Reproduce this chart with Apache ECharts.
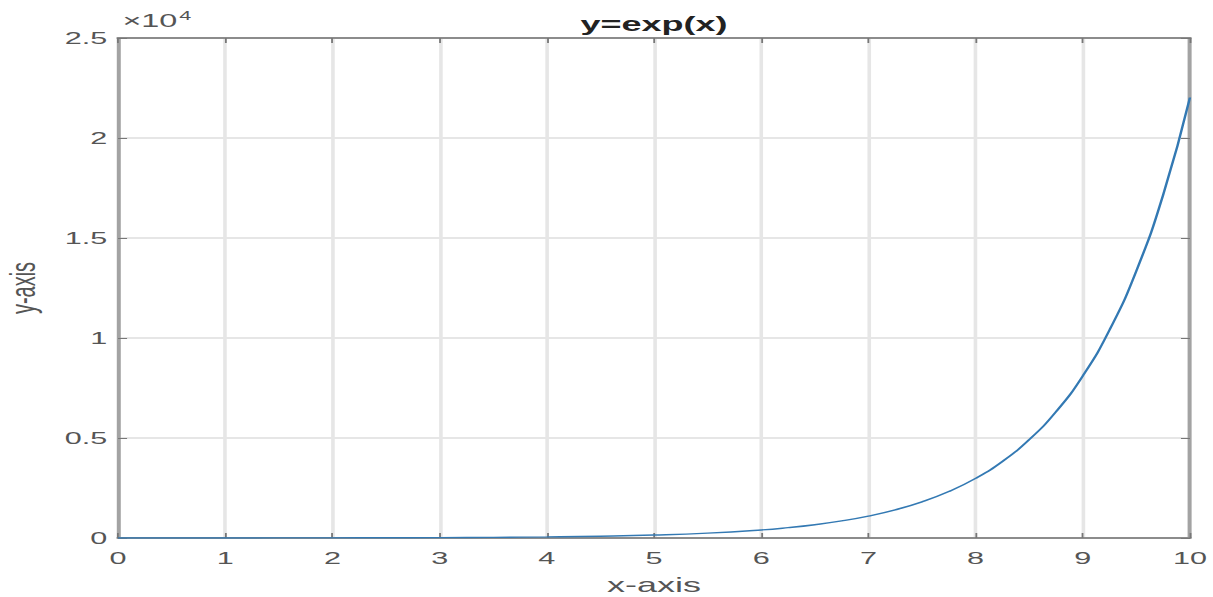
<!DOCTYPE html>
<html><head><meta charset="utf-8">
<script src="https://cdn.jsdelivr.net/npm/echarts@6/dist/echarts.min.js"></script>
<style>
html,body{margin:0;padding:0;background:#fff;overflow:hidden}
#c{width:674px;height:597px;transform:scaleX(1.7997);transform-origin:0 0}
</style>
</head><body><div id="c"></div>
<script>
const titleText = 'y=exp(x)';
const xLabel = 'x-axis';
const yLabel = 'y-axis';
const xTicks = [0,1,2,3,4,5,6,7,8,9,10];
const yTicks = [0,0.5,1,1.5,2,2.5];
// x values and y values (in units of 10^4)
const xs = [0,0.5,1,1.5,2,2.5,3,3.5,4,4.5,5,5.5,6,6.25,6.5,6.75,7,7.25,7.5,7.75,8,8.25,8.5,8.75,9,9.25,9.5,9.75,10];
const ys = [0.0001,0.00016,0.00027,0.00045,0.00074,0.0012,0.002,0.0033,0.0055,0.009,0.0148,0.0245,0.0403,0.0518,0.0665,0.0854,0.1097,0.1408,0.1808,0.2322,0.2981,0.3827,0.4915,0.6311,0.8103,1.0405,1.336,1.7154,2.2026];

const chart = echarts.init(document.getElementById('c'), null, {renderer:'svg'});
const txt = '#555';
const font = 'Liberation Sans';
const tickStyle = {show:true,inside:true,length:5,lineStyle:{color:'#777',width:1}};
chart.setOption({
  animation:false,
  backgroundColor:'#fff',
  title:{text:titleText,left:363.4,textAlign:'center',top:14,padding:0,textStyle:{fontFamily:font,fontSize:20,fontWeight:'bold',color:'#222'}},
  grid:{left:65.6,right:12.8,top:38,bottom:59,containLabel:false,outerBoundsMode:'none'},
  xAxis:[{
    type:'value',min:xTicks[0],max:xTicks[xTicks.length-1],interval:1,
    name:xLabel,nameLocation:'middle',nameGap:37,
    nameTextStyle:{fontFamily:font,fontSize:20,color:txt},
    axisLine:{show:true,onZero:false,lineStyle:{color:'#8c8c8c',width:2}},
    axisTick:tickStyle,
    axisLabel:{fontFamily:font,fontSize:17,color:txt,margin:12},
    splitLine:{show:true,lineStyle:{color:'#e6e6e6',width:2}}
  },{
    type:'value',position:'top',min:0,max:10,interval:1,
    axisLine:{show:true,onZero:false,lineStyle:{color:'#8c8c8c',width:2}},
    axisTick:tickStyle,
    axisLabel:{show:false},splitLine:{show:false}
  }],
  yAxis:[{
    type:'value',min:yTicks[0],max:yTicks[yTicks.length-1],interval:0.5,
    name:yLabel,nameLocation:'middle',nameGap:43,nameRotate:90,
    nameTextStyle:{fontFamily:font,fontSize:20,color:txt},
    axisLine:{show:true,onZero:false,lineStyle:{color:'#a3a3a3',width:2.2}},
    axisTick:tickStyle,
    axisLabel:{fontFamily:font,fontSize:17,color:txt,margin:6},
    splitLine:{show:true,lineStyle:{color:'#e6e6e6',width:2}}
  },{
    type:'value',position:'right',min:0,max:2.5,interval:0.5,
    axisLine:{show:true,onZero:false,lineStyle:{color:'#a3a3a3',width:2.2}},
    axisTick:tickStyle,
    axisLabel:{show:false},splitLine:{show:false}
  }],
  graphic:[{
    type:'text',left:68,top:10,
    style:{
      text:'{a|×10}{b|4}',
      rich:{a:{fontFamily:font,fontSize:18,fill:txt},b:{fontFamily:font,fontSize:12,fill:txt,verticalAlign:'top',padding:[0,0,9,1]}}
    }
  }],
  series:[{
    type:'line',smooth:true,showSymbol:false,
    data:xs.map((x,i)=>[x,ys[i]]),
    lineStyle:{color:'#3379b3',width:1.4}
  }]
});
</script></body></html>
